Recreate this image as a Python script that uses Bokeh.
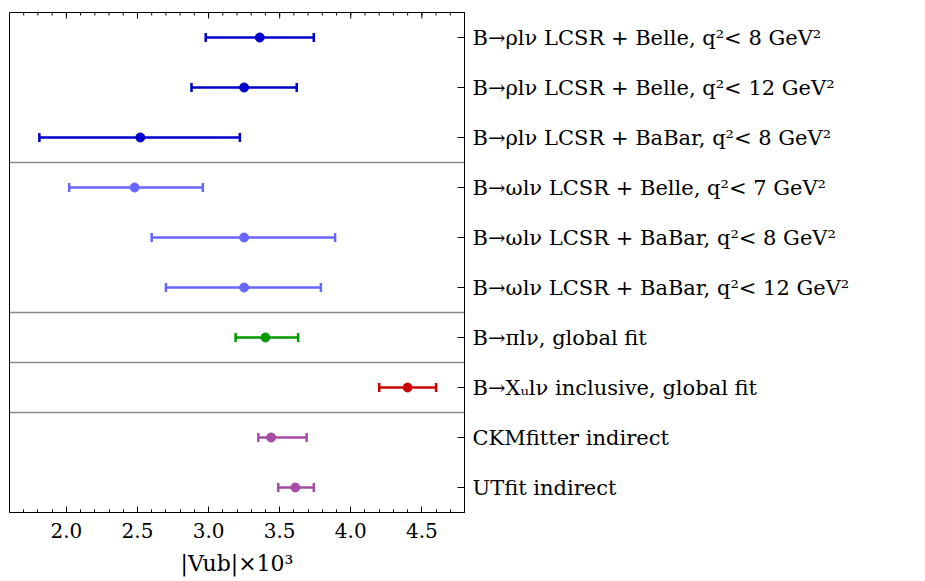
from bokeh.plotting import figure
from bokeh.models import (ColumnDataSource, Whisker, TeeHead, Span,
                          FixedTicker, Range1d, NumeralTickFormatter)
from bokeh.embed import file_html
from bokeh.resources import INLINE

# ---- data (top to bottom) ----
labels = [
    "B→ρlν LCSR + Belle, q²< 8 GeV²",
    "B→ρlν LCSR + Belle, q²< 12 GeV²",
    "B→ρlν LCSR + BaBar, q²< 8 GeV²",
    "B→ωlν LCSR + Belle, q²< 7 GeV²",
    "B→ωlν LCSR + BaBar, q²< 8 GeV²",
    "B→ωlν LCSR + BaBar, q²< 12 GeV²",
    "B→πlν, global fit",
    "B→Xᵤlν inclusive, global fit",
    "CKMfitter indirect",
    "UTfit indirect",
]
central = [3.36, 3.25, 2.52, 2.48, 3.25, 3.25, 3.40, 4.40, 3.44, 3.61]
lower = [2.98, 2.88, 1.81, 2.02, 2.60, 2.70, 3.19, 4.20, 3.35, 3.49]
upper = [3.74, 3.62, 3.22, 2.96, 3.89, 3.79, 3.63, 4.60, 3.69, 3.74]
groups = ["rho", "rho", "rho", "omega", "omega", "omega", "pi", "xu", "ind", "ind"]
group_colors = {"rho": "#0000cc", "omega": "#6666ff", "pi": "#009900",
                "xu": "#cc0000", "ind": "#a64ca6"}
separators = [7, 4, 3, 2]
x_major = [2.0, 2.5, 3.0, 3.5, 4.0, 4.5]
x_minor = [round(1.6 + 0.1 * k, 2) for k in range(33)]

n = len(labels)
ypos = [n - i - 0.5 for i in range(n)]

FONT = "DejaVu Serif"

p = figure(frame_width=455, frame_height=500, output_backend="svg",
           toolbar_location=None, x_range=Range1d(1.6, 4.8),
           y_range=Range1d(0, n), y_axis_location="right",
           min_border_left=9, min_border_top=12, min_border_bottom=0,
           min_border_right=0)
p.outline_line_color = "black"
p.outline_line_width = 1
p.grid.visible = False
p.background_fill_color = "white"

# bottom axis
xa = p.xaxis[0]
xa.ticker = FixedTicker(ticks=x_major, minor_ticks=x_minor)
xa.formatter = NumeralTickFormatter(format="0.0")
xa.major_tick_in = 6
xa.major_tick_out = 0
xa.minor_tick_in = 3
xa.minor_tick_out = 0
xa.axis_line_color = "black"
xa.major_tick_line_color = "black"
xa.minor_tick_line_color = "black"
xa.major_label_text_font = FONT
xa.major_label_text_font_size = "20px"
xa.major_label_text_color = "black"
xa.major_label_standoff = 10
xa.axis_label = "|Vub|×10³"
xa.axis_label_text_font = FONT
xa.axis_label_text_font_style = "normal"
xa.axis_label_text_font_size = "22px"
xa.axis_label_text_color = "black"
xa.axis_label_standoff = 10

# top mirror ticks (inward), drawn from the tick arrays
top = n
px_per_unit = 500 / n
p.segment(x0=x_major, x1=x_major, y0=[top] * len(x_major),
          y1=[top - 6 / px_per_unit] * len(x_major), line_color="black",
          line_width=1)
p.segment(x0=x_minor, x1=x_minor, y0=[top] * len(x_minor),
          y1=[top - 3 / px_per_unit] * len(x_minor), line_color="black",
          line_width=1)

# right axis with labels
ya = p.yaxis[0]
ya.ticker = FixedTicker(ticks=ypos, minor_ticks=[])
ya.major_label_overrides = {y: lab for y, lab in zip(ypos, labels)}
ya.major_tick_in = 7
ya.major_tick_out = 0
ya.minor_tick_in = 0
ya.minor_tick_out = 0
ya.major_label_standoff = 8
ya.major_label_text_font = FONT
ya.major_label_text_font_size = "21px"
ya.major_label_text_color = "black"
ya.axis_line_color = "black"
ya.major_tick_line_color = "black"

for s in separators:
    p.add_layout(Span(location=s, dimension="width", line_color="#888888",
                      line_width=1.5))

for g, col in group_colors.items():
    idx = [i for i in range(n) if groups[i] == g]
    src = ColumnDataSource(dict(
        y=[ypos[i] for i in idx], x=[central[i] for i in idx],
        lo=[lower[i] for i in idx], hi=[upper[i] for i in idx]))
    w = Whisker(source=src, base="y", lower="lo", upper="hi", dimension="width",
                line_color=col, line_width=2.5,
                lower_head=TeeHead(size=9, line_color=col, line_width=2.5),
                upper_head=TeeHead(size=9, line_color=col, line_width=2.5))
    p.add_layout(w)
    p.scatter("x", "y", source=src, size=9, color=col)

open("out.html", "w").write(file_html(p, INLINE))
